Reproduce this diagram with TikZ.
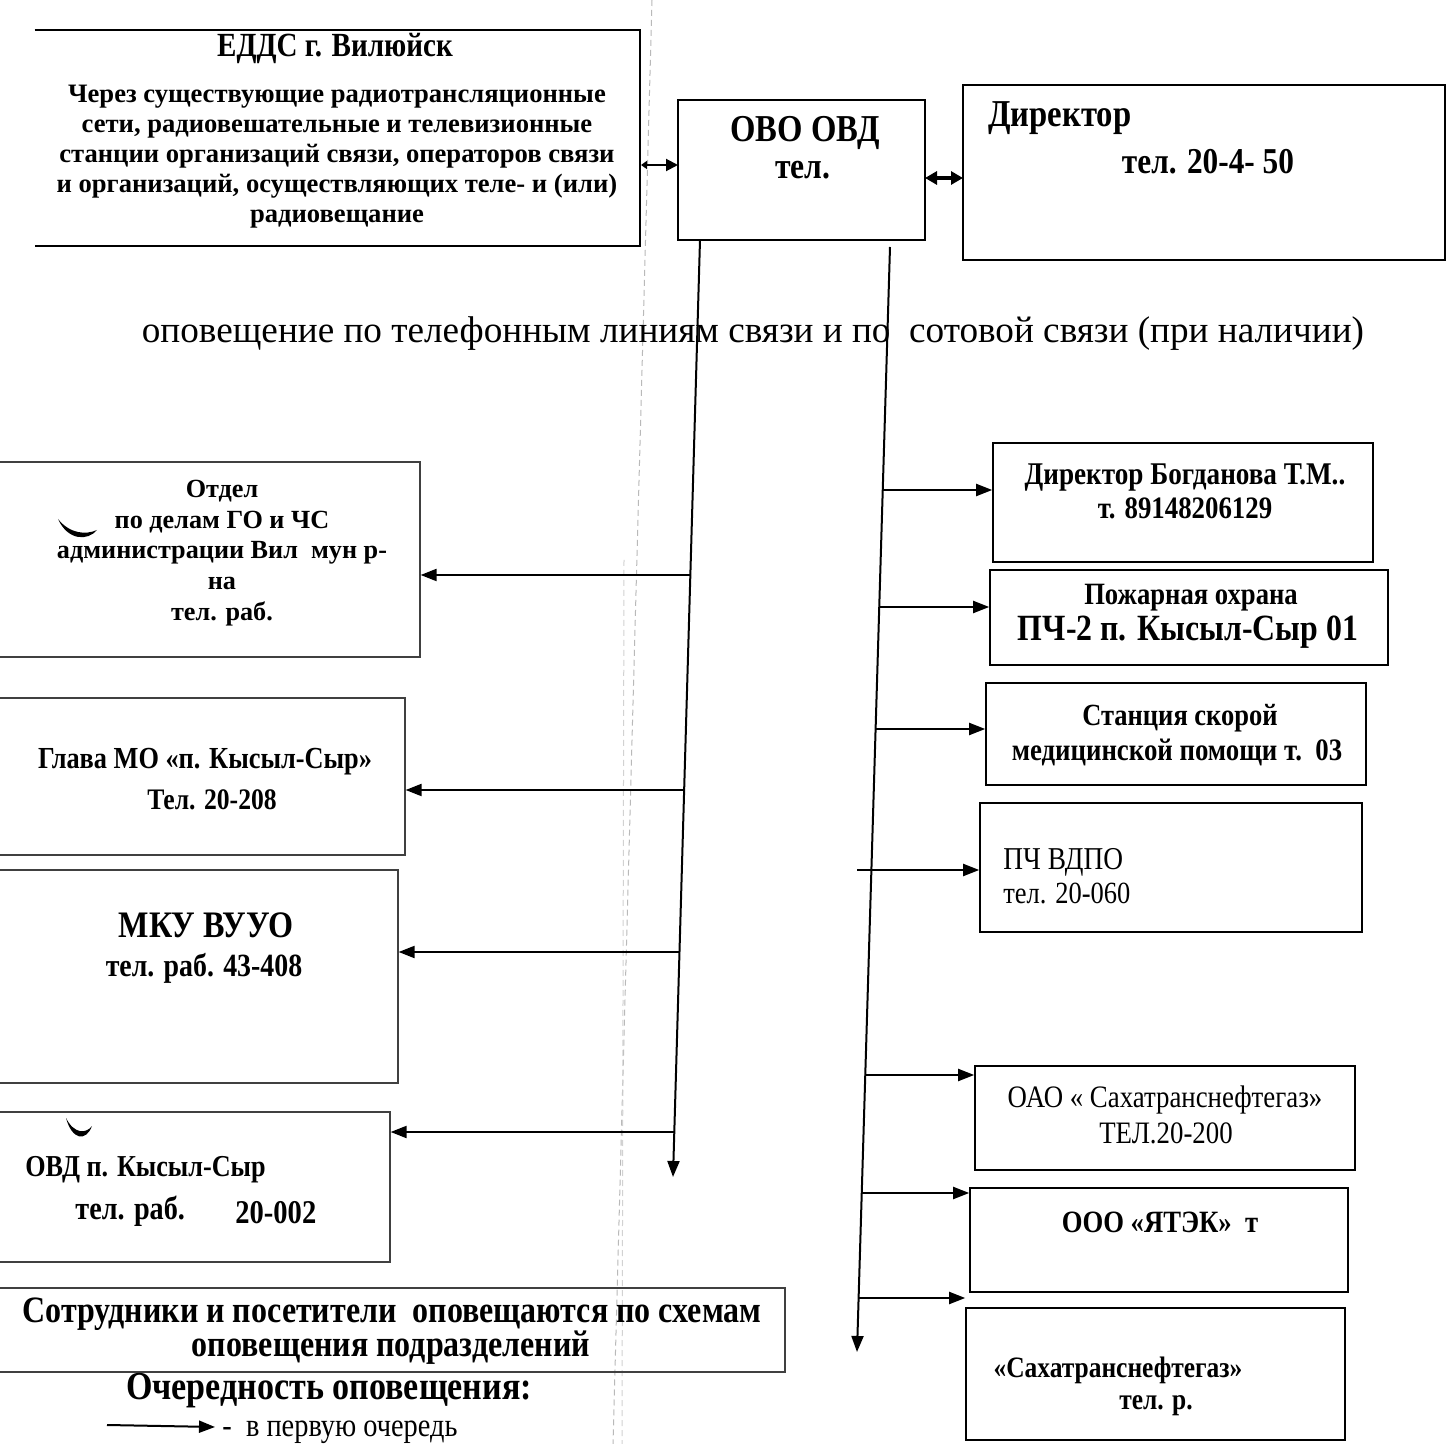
\documentclass[tikz,border=0pt]{standalone}
\usepackage{fontspec}
\setmainfont{Liberation Serif}
\newfontfamily\cond{Liberation Serif}[FakeStretch=0.86]
\usetikzlibrary{arrows.meta,fit}
\newcommand\fsz[2]{\fontsize{#1}{#2}\selectfont}
\begin{document}
\begin{tikzpicture}[x=0.5pt,y=-0.5pt]
\tikzset{
  boxf/.style={draw, line width=1pt, inner sep=0pt},
  leftbox/.style={draw=black!75, line width=0.6pt, inner sep=0pt},
  openbox/.style={inner sep=0pt},
  txt/.style={inner sep=0pt, align=center},
  arr/.style={line width=1pt, -{Triangle[length=8pt,width=6pt]}},
  fold/.style={gray!55, line width=0.5pt, dash pattern=on 3pt off 2pt},
}
\useasboundingbox (0,0) rectangle (1453,1444);
\clip (0,0) rectangle (1453,1444);
\fill[white] (0,0) rectangle (1453,1444);

% fold lines of the scan
\draw[fold] (652,0) -- (613,1444);
\draw[fold, gray!35] (624,560) -- (622,1444);

% ---------- top row ----------
\node[openbox, fit={(35,30) (640,246)}] (edds) {};
\draw[line width=1pt] (edds.north west) -- (edds.north east) -- (edds.south east) -- (edds.south west);
\node[txt, font=\cond\bfseries\fsz{16.9}{20}] (eddsT) at (335,48) {ЕДДС г. Вилюйск};
\node[txt, font=\bfseries\fsz{13.3}{15}] (eddsB) at (337,157) {Через существующие радиотрансляционные\\сети, радиовешательные и телевизионные\\станции организаций связи, операторов связи\\и организаций, осуществляющих теле- и (или)\\радиовещание};

\node[boxf, fit={(678,100) (925,240)}] (ovo) {};
\node[txt, font=\cond\bfseries\fsz{19}{22}] (ovoT) at (805,133) {ОВО ОВД};
\node[txt, font=\cond\bfseries\fsz{18.4}{21}] (ovoP) at (803,170) {тел.};

\node[boxf, line width=1.2pt, fit={(963,85) (1445,260)}] (dir) {};
\node[txt, font=\cond\bfseries\fsz{19}{22}, anchor=west] (dirT) at (988,118) {Директор};
\node[txt, font=\cond\bfseries\fsz{18.2}{21}] (dirP) at (1208,162) {тел. 20-4- 50};

\coordinate (a1s) at (641,165);
\coordinate (a1e) at (678,165);
\draw[line width=1pt, {Triangle[length=3pt,width=4pt]}-{Triangle[length=6pt,width=6pt]}] (a1s) -- (a1e);
\coordinate (a2s) at (925,178);
\coordinate (a2e) at (963,178);
\draw[line width=1.6pt, {Triangle[length=6pt,width=6.5pt]}-{Triangle[length=6pt,width=6.5pt]}] (a2s) -- (a2e);

\node[txt, font=\fsz{18.6}{22}] (mainT) at (753,334) {оповещение по телефонным линиям связи и по\ \ сотовой связи (при наличии)};

% ---------- trunks ----------
\coordinate (L0) at (700,240);
\coordinate (L1) at (673,1177);
\draw[arr] (L0) -- (L1);
\coordinate (R0) at (890,247);
\coordinate (R1) at (857,1352);
\draw[arr] (R0) -- (R1);

% ---------- left column ----------
\node[leftbox, fit={(-10,462) (420,657)}] (otd) {};
\node[txt, font=\bfseries\fsz{13.1}{15.4}] (otdT) at (222,553) {Отдел\\по делам ГО и ЧС\\администрации Вил\ \ мун р-\\на\\тел. раб.};
\fill (58,519) .. controls (68,541) and (88,541) .. (97,530) .. controls (86,535) and (70,534) .. (58,519) -- cycle;

\node[leftbox, fit={(-10,698) (405,855)}] (gl) {};
\node[txt, font=\cond\bfseries\fsz{15.3}{18}] (glT) at (205,762) {Глава МО «п. Кысыл-Сыр»};
\node[txt, font=\cond\bfseries\fsz{14.9}{18}] (glP) at (212,800) {Тел. 20-208};

\node[leftbox, fit={(-10,870) (398,1083)}] (mku) {};
\node[txt, font=\cond\bfseries\fsz{18.7}{22}] (mkuT) at (206,925) {МКУ ВУУО};
\node[txt, font=\cond\bfseries\fsz{16.2}{19}] (mkuP) at (204,968) {тел. раб. 43-408};

\node[leftbox, fit={(-10,1112) (390,1262)}] (ovd) {};
\fill (66,1118) .. controls (72,1140) and (86,1142) .. (92,1126) .. controls (86,1134) and (74,1134) .. (66,1118) -- cycle;
\node[txt, font=\cond\bfseries\fsz{15.2}{18}, anchor=west] (ovdT) at (25,1170) {ОВД п. Кысыл-Сыр};
\node[txt, font=\cond\bfseries\fsz{16.4}{19}, anchor=west] (ovdP) at (75,1211) {тел. раб.};
\node[txt, font=\cond\bfseries\fsz{16.6}{19}, anchor=west] (ovdN) at (235,1213) {20-002};

\node[leftbox, fit={(-10,1288) (785,1372)}] (sotr) {};
\node[txt, font=\cond\bfseries\fsz{18.6}{22}] (sotrT) at (392,1314) {Сотрудники и посетители\ \ оповещаются по схемам};
\node[txt, font=\cond\bfseries\fsz{18.6}{22}] (sotrT2) at (391,1348) {оповещения подразделений};

\node[txt, font=\cond\bfseries\fsz{19.8}{23}] (ocher) at (329,1391) {Очередность оповещения:};
\coordinate (lg0) at (107,1425);
\coordinate (lg1) at (215,1427);
\draw[arr] (lg0) -- (lg1);
\node[txt, font=\cond\fsz{16.5}{19}, anchor=base west] (lgT) at (222,1436) {-\ \ в первую очередь};

% left branches
\coordinate (lb1) at (690,575);
\draw[arr] (lb1) -- (lb1 -| otd.east);
\coordinate (lb2) at (684,790);
\draw[arr] (lb2) -- (lb2 -| gl.east);
\coordinate (lb3) at (679,952);
\draw[arr] (lb3) -- (lb3 -| mku.east);
\coordinate (lb4) at (674,1132);
\draw[arr] (lb4) -- (lb4 -| ovd.east);

% ---------- right column ----------
\node[boxf, line width=0.8pt, fit={(993,443) (1373,562)}] (bog) {};
\node[txt, font=\cond\bfseries\fsz{15.8}{18}] (bogT) at (1185,478) {Директор Богданова Т.М..};
\node[txt, font=\cond\bfseries\fsz{15.6}{18}] (bogP) at (1185,508) {т. 89148206129};

\node[boxf, line width=0.8pt, fit={(990,570) (1388,665)}] (poz) {};
\node[txt, font=\cond\bfseries\fsz{15.5}{18}] (pozT) at (1191,598) {Пожарная охрана};
\node[txt, font=\cond\bfseries\fsz{18.5}{21}] (pozP) at (1188,632) {ПЧ-2 п. Кысыл-Сыр 01};

\node[boxf, line width=0.8pt, fit={(986,683) (1366,785)}] (stan) {};
\node[txt, font=\cond\bfseries\fsz{15.4}{18}] (stanT) at (1180,718) {Станция скорой};
\node[txt, font=\cond\bfseries\fsz{15.6}{18}] (stanP) at (1177,752) {медицинской помощи т.\ \ 03};

\node[boxf, line width=0.8pt, fit={(980,803) (1362,932)}] (pch) {};
\node[txt, font=\cond\fsz{15.9}{18}, anchor=west] (pchT) at (1003,862) {ПЧ ВДПО};
\node[txt, font=\cond\fsz{15.4}{18}, anchor=west] (pchP) at (1003,893) {тел. 20-060};

\node[boxf, line width=0.8pt, fit={(975,1066) (1355,1170)}] (oao) {};
\node[txt, font=\cond\fsz{15.6}{18}] (oaoT) at (1165,1100) {ОАО « Сахатранснефтегаз»};
\node[txt, font=\cond\fsz{15.6}{18}] (oaoP) at (1166,1133) {ТЕЛ.20-200};

\node[boxf, line width=0.8pt, fit={(970,1188) (1348,1292)}] (yat) {};
\node[txt, font=\cond\bfseries\fsz{15.5}{18}] (yatT) at (1160,1222) {ООО «ЯТЭК»\ \ т};

\node[boxf, line width=0.8pt, fit={(966,1308) (1345,1440)}] (sah) {};
\node[txt, font=\cond\bfseries\fsz{14.8}{18}] (sahT) at (1118,1370) {«Сахатранснефтегаз»};
\node[txt, font=\cond\bfseries\fsz{14.8}{18}] (sahP) at (1156,1406) {тел. р.};

% right branches
\coordinate (rb1) at (883,490);
\draw[arr] (rb1) -- (rb1 -| bog.west);
\coordinate (rb2) at (879,607);
\draw[arr] (rb2) -- (rb2 -| poz.west);
\coordinate (rb3) at (876,729);
\draw[arr] (rb3) -- (rb3 -| stan.west);
\coordinate (rb4) at (857,870);
\draw[arr] (rb4) -- (rb4 -| pch.west);
\coordinate (rb5) at (865,1075);
\draw[arr] (rb5) -- (rb5 -| oao.west);
\coordinate (rb6) at (862,1193);
\draw[arr] (rb6) -- (rb6 -| yat.west);
\coordinate (rb7) at (858,1298);
\draw[arr] (rb7) -- (rb7 -| sah.west);
\end{tikzpicture}
\end{document}
